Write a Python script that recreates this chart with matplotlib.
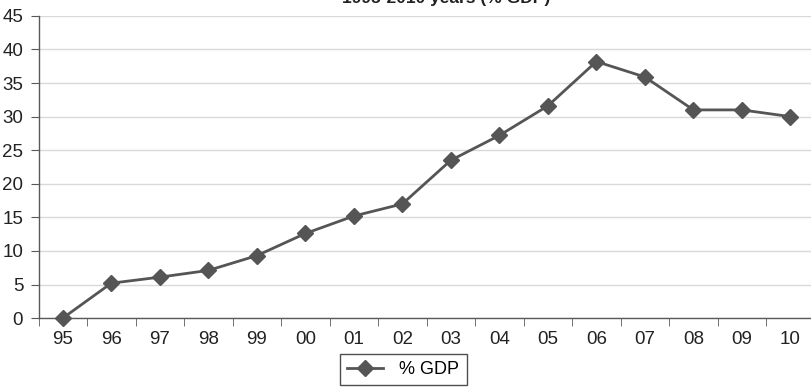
import matplotlib
matplotlib.use("Agg")
import matplotlib.pyplot as plt
import numpy as np

plt.rcParams["font.family"] = ["Liberation Sans", "DejaVu Sans"]

# data
years = ["95", "96", "97", "98", "99", "00", "01", "02",
         "03", "04", "05", "06", "07", "08", "09", "10"]
gdp_pct = [0.0, 5.2, 6.1, 7.1, 9.3, 12.6, 15.2, 17.0,
           23.5, 27.2, 31.6, 38.2, 35.9, 31.0, 31.0, 30.0]
title = "1995-2010 years (% GDP)"

LINE = "#555555"
GRID = "#d9d9d9"
AX = "#595959"
TXT = "#222222"

fig = plt.figure(figsize=(8.11, 3.87), dpi=100)
ax = fig.add_axes([0.0475, 0.178, 0.957, 0.781])

x = np.arange(len(years))
ax.plot(x, gdp_pct, color=LINE, lw=2, marker="D", ms=8.5,
        mfc=LINE, mec=LINE, label="% GDP", zorder=3, clip_on=False)

ax.set_xlim(-0.5, len(years) - 0.5)
ax.set_ylim(0, 45)
ax.set_yticks(np.arange(0, 46, 5))
ax.set_xticks(x)
ax.set_xticklabels(years)
ax.set_xticks(np.arange(-0.5, len(years), 1), minor=True)
ax.tick_params(axis="x", which="major", length=0, pad=9, labelsize=13.5, colors=TXT)
ax.tick_params(axis="x", which="minor", length=6, direction="out")
ax.tick_params(axis="y", length=6, labelsize=13.5, colors=TXT, pad=5)
ax.tick_params(axis="both", which="both", color=AX)

ax.grid(axis="y", color=GRID, lw=1)
ax.set_axisbelow(True)
for s in ("top", "right"):
    ax.spines[s].set_visible(False)
for s in ("left", "bottom"):
    ax.spines[s].set_color(AX)
    ax.spines[s].set_linewidth(1)

leg = ax.legend(loc="upper center", bbox_to_anchor=(0.47, -0.118), frameon=True,
                fancybox=False, fontsize=13, handlelength=2.0, borderpad=0.4,
                handletextpad=0.9, borderaxespad=0)
leg.get_frame().set_edgecolor(TXT)
leg.get_frame().set_linewidth(1)

fig.text(0.55, 0.992, title, ha="center", va="baseline",
         fontsize=12.5, fontweight="bold", color=TXT)

fig.savefig("out.png", dpi=100, facecolor="white")
